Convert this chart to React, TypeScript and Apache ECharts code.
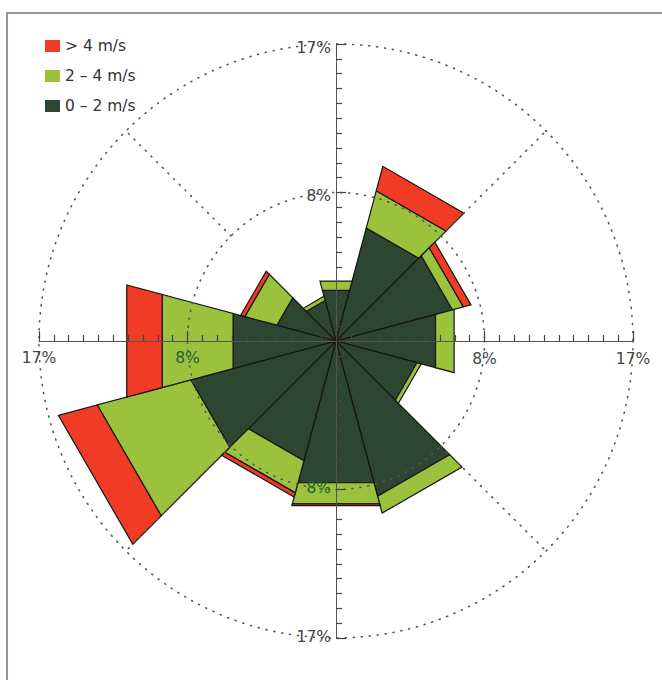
import React, { useEffect, useRef } from 'react';
import * as echarts from 'echarts';

// Wind directions (degrees, clockwise from north) – 12 sectors of 30°
const directions = [0, 30, 60, 90, 120, 150, 180, 210, 240, 270, 300, 330];
// Frequency (%) per direction for each wind-speed class
const calm = [3.0, 6.7, 6.9, 5.9, 4.8, 9.2, 8.4, 7.1, 8.6, 6.1, 3.5, 2.4]; // 0 – 2 m/s
const moderate = [0.55, 2.2, 0.65, 1.1, 0.25, 1.0, 1.25, 1.9, 5.55, 4.2, 1.9, 0.25]; // 2 – 4 m/s
const strong = [0, 1.45, 0.45, 0, 0, 0, 0.1, 0.25, 2.3, 2.1, 0.25, 0]; // > 4 m/s
const seriesNames = ['> 4 m/s', '2 – 4 m/s', '0 – 2 m/s'];
const seriesColors = ['#f03b25', '#9bc23c', '#2d4631'];
// Radius axis
const RMAX = 17;
const majorTicks = [8.5, 17];
const tickLabels = ['8%', '17%'];
const armAngles = [90, 0, 270, 180];
const diagonalAngles = [45, 135, 225, 315];

const FONT = '"DejaVu Sans", sans-serif';
const DOTS = { stroke: '#555', lineWidth: 1.6, lineDash: [1, 7], lineCap: 'round' };

function buildStacks() {
  const classes = [calm, moderate, strong];
  const out: number[][][] = [[], [], []];
  directions.forEach((ang, i) => {
    let base = 0;
    classes.forEach((arr, c) => {
      const top = base + arr[i];
      out[c].push([base, top, ang]);
      base = top;
    });
  });
  return out; // [calm, moderate, strong]
}

export default function App() {
  const ref = useRef<HTMLDivElement>(null);
  useEffect(() => {
    if (!ref.current) return;
    const chart = echarts.init(ref.current, undefined, { renderer: 'svg' });
    const [calmD, modD, strongD] = buildStacks();
    const half = 180 / directions.length;

    const sectorRender = (color: string) => (params: any, api: any) => {
      const low = api.value(0);
      const high = api.value(1);
      const ang = api.value(2);
      if (!(high > low)) return null;
      const a1 = (ang - half + 360) % 360;
      const a2 = ang + half;
      const pts = [
        api.coord([low, a1]),
        api.coord([high, a1]),
        api.coord([high, a2]),
        api.coord([low, a2]),
      ];
      return {
        type: 'polygon',
        shape: { points: pts },
        style: { fill: color, stroke: '#161616', lineWidth: 1.2, lineJoin: 'miter' },
      };
    };

    const mkSector = (name: string, color: string, data: number[][]) => ({
      type: 'custom',
      name,
      coordinateSystem: 'polar',
      polarIndex: 0,
      itemStyle: { color },
      data,
      z: 2,
      renderItem: sectorRender(color),
    });

    const option: any = {
      animation: false,
      backgroundColor: '#ffffff',
      graphic: [
        {
          type: 'rect',
          shape: { x: 7, y: 13, width: 700, height: 700 },
          style: { fill: 'none', stroke: '#6f7390', lineWidth: 1.5 },
          z: 0,
          silent: true,
        },
      ],
      legend: {
        orient: 'vertical',
        left: 40,
        top: 32,
        icon: 'rect',
        itemWidth: 15,
        itemHeight: 12,
        itemGap: 12,
        selectedMode: false,
        data: seriesNames,
        textStyle: { fontFamily: FONT, fontSize: 15.5, color: '#333', lineHeight: 18 },
      },
      polar: armAngles.map(() => ({ center: [336, 341], radius: 297 })),
      angleAxis: armAngles.map((a, i) => ({
        polarIndex: i,
        type: 'value',
        min: 0,
        max: 360,
        startAngle: a,
        clockwise: true,
        show: false,
      })),
      radiusAxis: armAngles.map((a, i) => {
        const flip = a === 90 || a === 180;
        return {
          polarIndex: i,
          type: 'value',
          min: 0,
          max: RMAX,
          interval: 8.5,
          z: 10,
          axisLine: { show: true, lineStyle: { color: '#555', width: 1 } },
          axisTick: { show: true, length: flip ? -10 : 10, lineStyle: { color: '#444', width: 1.2 } },
          minorTick: { show: true, splitNumber: 10, length: flip ? -6 : 6, lineStyle: { color: '#444', width: 1.2 } },
          axisLabel: { show: false },
          splitLine: { show: false },
          splitArea: { show: false },
        };
      }),
      series: [
        mkSector(seriesNames[2], seriesColors[2], calmD),
        mkSector(seriesNames[1], seriesColors[1], modD),
        mkSector(seriesNames[0], seriesColors[0], strongD),
        {
          // dotted reference circles, drawn over the petals
          type: 'custom',
          coordinateSystem: 'polar',
          polarIndex: 0,
          silent: true,
          z: 9,
          data: majorTicks.map((v) => [v, 0]),
          renderItem: (params: any, api: any) => {
            const v = api.value(0);
            const c = api.coord([0, 0]);
            const p = api.coord([v, 0]);
            const r = Math.hypot(p[0] - c[0], p[1] - c[1]);
            return {
              type: 'circle',
              shape: { cx: c[0], cy: c[1], r },
              style: { fill: 'none', ...DOTS },
            };
          },
        },
        {
          type: 'custom',
          coordinateSystem: 'polar',
          polarIndex: 0,
          silent: true,
          z: 9,
          data: diagonalAngles.map((a) => [RMAX, a]),
          renderItem: (params: any, api: any) => {
            const a = api.value(1);
            const p1 = api.coord([majorTicks[0], a]);
            const p2 = api.coord([RMAX, a]);
            return {
              type: 'line',
              shape: { x1: p1[0], y1: p1[1], x2: p2[0], y2: p2[1] },
              style: { ...DOTS },
            };
          },
        },
        {
          type: 'custom',
          coordinateSystem: 'polar',
          polarIndex: 0,
          silent: true,
          z: 12,
          data: majorTicks.map((v) => [v, 0]),
          renderItem: (params: any, api: any) => {
            const v = api.value(0);
            const label = tickLabels[params.dataIndex];
            const inner = params.dataIndex === 0;
            const top = api.coord([v, 0]);
            const right = api.coord([v, 90]);
            const bottom = api.coord([v, 180]);
            const left = api.coord([v, 270]);
            const mk = (x: number, y: number, align: string, fill: string) => ({
              type: 'text',
              x,
              y,
              style: { text: label, fill, font: `15.5px ${FONT}`, align, verticalAlign: 'middle' },
            });
            const grey = '#444';
            const green = '#24612f';
            return {
              type: 'group',
              children: [
                mk(top[0] - 5, top[1] + 3.5, 'right', grey),
                mk(right[0], right[1] + 18, 'center', grey),
                mk(bottom[0] - 5, bottom[1] - 1.5, 'right', inner ? green : grey),
                mk(left[0], left[1] + 17, 'center', inner ? green : grey),
              ],
            };
          },
        },
      ],
    };
    chart.setOption(option);
    return () => chart.dispose();
  }, []);
  return (
    <div
      ref={ref}
      style={{ position: 'fixed', left: 0, top: 0, width: 662, height: 680, background: '#fff' }}
    />
  );
}
